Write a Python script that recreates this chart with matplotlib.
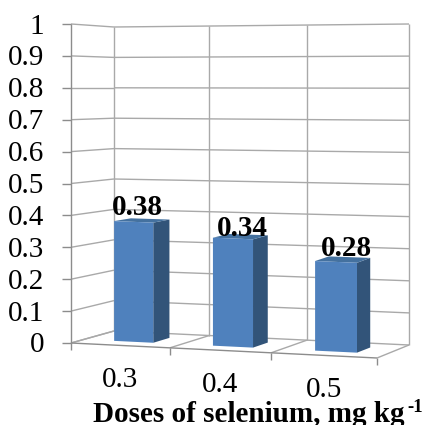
import matplotlib
matplotlib.use("Agg")
import matplotlib.pyplot as plt

doses = ["0.3", "0.4", "0.5"]
values = [0.38, 0.34, 0.28]
y_ticks = [0, 0.1, 0.2, 0.3, 0.4, 0.5, 0.6, 0.7, 0.8, 0.9, 1]
y_labels = ["0", "0.1", "0.2", "0.3", "0.4", "0.5", "0.6", "0.7", "0.8", "0.9", "1"]

# fake 3D box, corners in pixels (x, y of floor, height of value 1)
FRONT_LEFT = (71, 343, 319)
BACK_LEFT = (114, 331, 304)
BACK_RIGHT = (409, 345, 321)
FRONT_RIGHT = (377, 358, 322)
CAT_EDGES = [0, 0.323, 0.654, 1]  # perspective squeezes the first categories
BAR_SHIFT = [0.003, 0.004, 0.006]
LABEL_SHIFT = [(-5, -16), (2, -11), (4, -14)]

GRID = "#a9a9a9"
AXIS = "#8c8c8c"
FACE = "#4f81bd"
SIDE = "#325479"
TOP = "#44719f"


def project(u, d, v):
    # u along the categories, d front to back, v the value
    pts = []
    for i in range(3):
        front = FRONT_LEFT[i] + (FRONT_RIGHT[i] - FRONT_LEFT[i]) * u
        back = BACK_LEFT[i] + (BACK_RIGHT[i] - BACK_LEFT[i]) * u
        pts.append(front + (back - front) * d)
    return pts[0], pts[1] - pts[2] * v


def line(ax, p0, p1, color=GRID, lw=1.0):
    ax.plot([p0[0], p1[0]], [p0[1], p1[1]], color=color, lw=lw, solid_capstyle="butt")


plt.rcParams["font.family"] = ["Liberation Serif", "DejaVu Serif"]

fig = plt.figure(figsize=(4.23, 4.25), dpi=100)
ax = fig.add_axes([0, 0, 1, 1])
ax.set_xlim(0, 423)
ax.set_ylim(425, 0)
ax.axis("off")

# walls
for v, lab in zip(y_ticks, y_labels):
    line(ax, project(0, 0, v), project(0, 1, v))
    line(ax, project(0, 1, v), project(1, 1, v))
    x, y = project(0, 0, v)
    line(ax, (x - 9, y), (x, y), AXIS)
    ax.text(x - 27, y + 2.5, lab, ha="right", va="center", fontsize=21, color="black")

for u in CAT_EDGES:
    line(ax, project(u, 1, 0), project(u, 1, 1))
    line(ax, project(u, 0, 0), project(u, 1, 0))
line(ax, project(0, 0, 0), project(0, 0, 1), AXIS)
line(ax, project(0, 0, 0), project(1, 0, 0), AXIS)
for u in CAT_EDGES:
    x, y = project(u, 0, 0)
    line(ax, (x, y), (x, y + 7), AXIS)

# bars
for i, val in enumerate(values):
    left, right = CAT_EDGES[i], CAT_EDGES[i + 1]
    mid = (left + right) / 2 + BAR_SHIFT[i]
    half = (right - left) * 0.2
    u0, u1 = mid - half, mid + half
    d0, d1 = 0.3, 0.7
    ax.fill(*zip(project(u1, d0, 0), project(u1, d1, 0), project(u1, d1, val), project(u1, d0, val)),
            color=SIDE, lw=0, zorder=3)
    ax.fill(*zip(project(u0, d0, val), project(u1, d0, val), project(u1, d1, val), project(u0, d1, val)),
            color=TOP, lw=0, zorder=3)
    ax.fill(*zip(project(u0, d0, 0), project(u1, d0, 0), project(u1, d0, val), project(u0, d0, val)),
            color=FACE, lw=0, zorder=4)
    x, y = project(mid, 0.5, val)
    dx, dy = LABEL_SHIFT[i]
    ax.text(x + dx, y + dy + 3, "%.2f" % val, ha="center", va="center", fontsize=21,
            fontweight="bold", color="black", zorder=5)
    # category label sits a fixed distance under the front edge
    x, y = project((left + right) / 2, 0, 0)
    ax.text(x, y + 35, doses[i], ha="center", va="center", fontsize=21, color="black")

ax.text(93, 414, "Doses of selenium, mg kg", ha="left", va="center", fontsize=21,
        fontweight="bold", color="black")
ax.text(407, 408, "-1", ha="left", va="center", fontsize=13.5, fontweight="bold", color="black")

fig.savefig("out.png", dpi=100)
